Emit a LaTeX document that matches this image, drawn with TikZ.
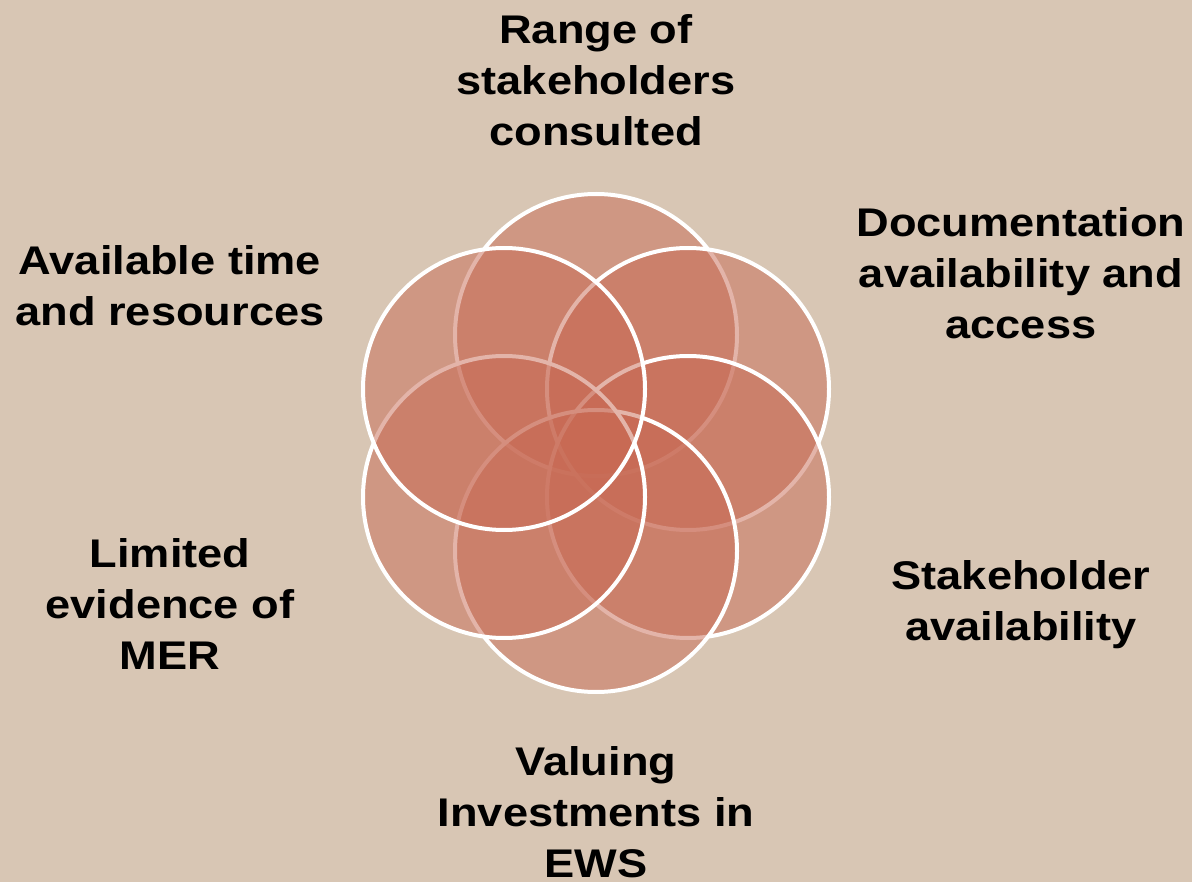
\documentclass[tikz,border=0pt]{standalone}
\usepackage{fontspec}
\setmainfont{Liberation Sans}[FakeStretch=1.13]
\definecolor{paper}{RGB}{216,198,180}
\definecolor{petal}{RGB}{200,106,84}
\begin{document}
\begin{tikzpicture}
		% six overlapping circles with the factors written round them
		[x=1pt,y=-1pt,
		 petal/.style={circle,draw=white,line width=4pt,fill=petal,fill opacity=0.5,draw opacity=1,minimum size=282pt,inner sep=0pt},
		 factor/.style={align=center,font=\fontsize{40}{51}\selectfont\bfseries,text=black,inner sep=0pt}]
		\fill[paper] (0,0) rectangle (1192,882);

		\node[petal] (top) at (596,335) {};
		\node[petal] (topright) at (688,389) {};
		\node[petal] (botright) at (688,497) {};
		\node[petal] (bot) at (596,551) {};
		\node[petal] (botleft) at (504,497) {};
		\node[petal] (topleft) at (504,389) {};

		\node[factor] (range) at (596,80) {Range of\\stakeholders\\consulted};
		\node[factor] (docs) at (1021,273) {Documentation\\availability and\\access};
		\node[factor] (avail) at (1021,605) {Stakeholder\\availability};
		\node[factor] (valuing) at (596,812) {Valuing\\Investments in\\EWS};
		\node[factor] (limited) at (170,604) {Limited\\evidence of\\MER};
		\node[factor] (time) at (170,286) {Available time\\and resources};
	\end{tikzpicture}
\end{document}
